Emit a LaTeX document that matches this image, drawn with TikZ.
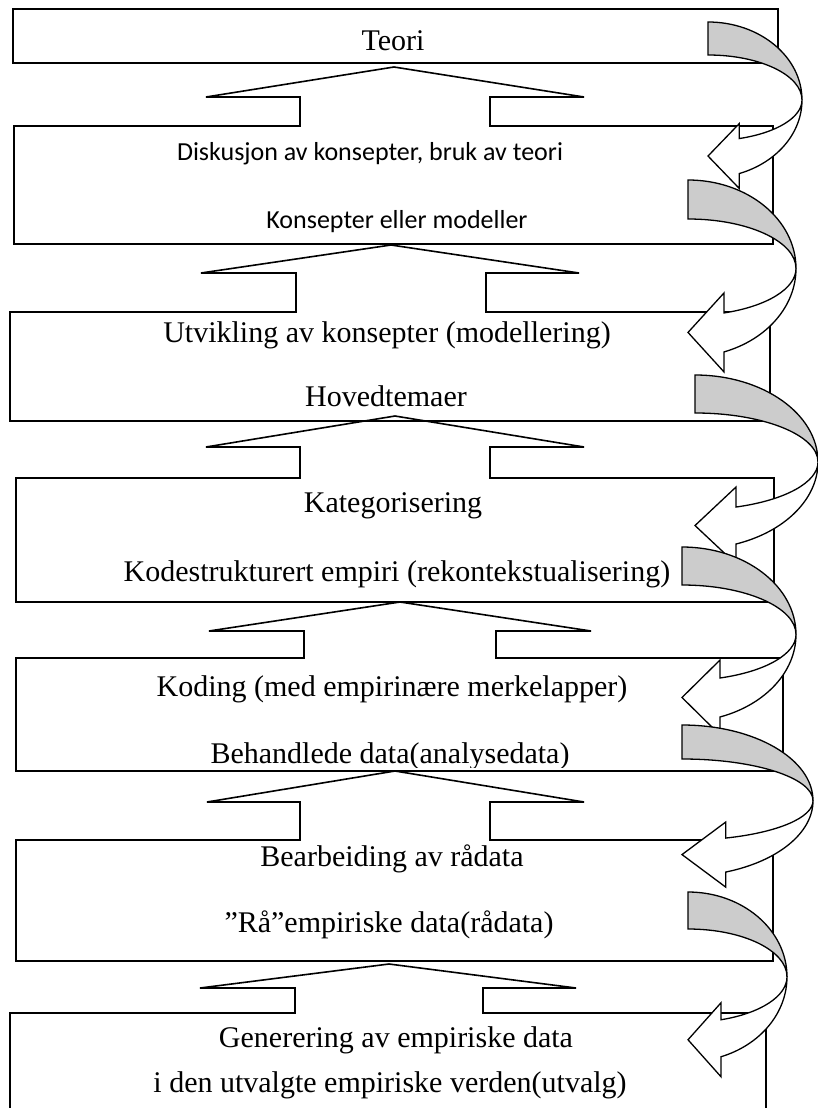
\documentclass[tikz,border=0pt]{standalone}
\usepackage{fontspec}
\setmainfont{Liberation Serif}
\newfontfamily\calib{Carlito}
\newcommand{\curvarrow}[8]{%
 \pgfmathsetmacro{\ho}{#2+0.942809*#4}%
 \pgfmathsetmacro{\hi}{\ho-#6}%
 \pgfmathsetmacro{\bb}{#4-#6/0.942809}%
 \pgfmathsetmacro{\hx}{#1+#3/3}%
 \pgfmathsetmacro{\tipy}{(\hi-#7+\ho+#8)/2}%
 \draw[backface] (#1,{-(#2)+#4}) arc[start angle=90,end angle=0,x radius=#3,y radius=#4]
   arc[start angle=0,end angle=90,x radius=#3,y radius={#4-#5}] -- cycle;
 \draw[frontface] ({#1+#3},{-(#2)}) arc[start angle=0,end angle=-70.5288,x radius=#3,y radius=#4]
   -- (\hx,{-\ho-#8}) -- (#1,-\tipy) -- (\hx,{-\hi+#7}) -- (\hx,-\hi)
   arc[start angle=-70.5288,end angle=0,x radius=#3,y radius=\bb] -- cycle;
}
\begin{document}
\begin{tikzpicture}[x=1pt,y=1pt,
  boxline/.style={draw=black,line width=1.6pt},
  backface/.style={fill=gray!40,draw=black,line width=1.3pt},
  frontface/.style={fill=white,draw=black,line width=1.3pt},
  serif/.style={font=\fontsize{30}{36}\selectfont,inner sep=0pt,anchor=base},
  sans/.style={font=\calib\fontsize{26}{31}\selectfont,inner sep=0pt,anchor=base}]
\fill[white] (0,0) rectangle (818,-1108);
\useasboundingbox (0,0) rectangle (818,-1108);

% boxes with up arrows
\draw[boxline] (13,-9) rectangle (778,-63);
\draw[boxline] (14,-244) -- (14,-126) -- (300,-126) -- (300,-97) -- (206,-97) -- (394,-67)
  -- (584,-97) -- (490,-97) -- (490,-126) -- (773,-126) -- (773,-244) -- cycle;
\draw[boxline] (10,-421) -- (10,-312) -- (296,-312) -- (296,-273) -- (201,-273) -- (391,-245)
  -- (579,-273) -- (486,-273) -- (486,-312) -- (770,-312) -- (770,-421) -- cycle;
\draw[boxline] (16,-602) -- (16,-478) -- (300,-478) -- (300,-447) -- (206,-447) -- (395,-416)
  -- (584,-447) -- (490,-447) -- (490,-478) -- (774,-478) -- (774,-602) -- cycle;
\draw[boxline] (16,-771) -- (16,-658) -- (304,-658) -- (304,-631) -- (209,-631) -- (400,-602)
  -- (591,-631) -- (496,-631) -- (496,-658) -- (783,-658) -- (783,-771) -- cycle;
\draw[boxline] (16,-961) -- (16,-840) -- (300,-840) -- (300,-802) -- (207,-802) -- (395,-771)
  -- (584,-802) -- (490,-802) -- (490,-840) -- (773,-840) -- (773,-961) -- cycle;
\draw[boxline] (10,-1115) -- (10,-1013) -- (295,-1013) -- (295,-988) -- (200,-988) -- (389,-964)
  -- (576,-988) -- (483,-988) -- (483,-1013) -- (766,-1013) -- (766,-1115);

% texts
\node[serif] (t1) at (393,-51) {Teori};
\node[sans] (t2a) at (370,-160) {Diskusjon av konsepter, bruk av teori};
\node[sans] (t2b) at (397,-228) {Konsepter eller modeller};
\node[serif] (t3a) at (387,-342) {Utvikling av konsepter (modellering)};
\node[serif] (t3b) at (386,-406) {Hovedtemaer};
\node[serif] (t4a) at (393,-512) {Kategorisering};
\node[serif] (t4b) at (397,-581) {Kodestrukturert empiri (rekontekstualisering)};
\node[serif] (t5a) at (392,-696) {Koding (med empirinære merkelapper)};
\begin{scope}
\clip (16,-658) rectangle (783,-767);
\node[serif] (t5b) at (390,-763) {Behandlede data(analysedata)};
\end{scope}
\node[serif] (t6a) at (392,-866) {Bearbeiding av rådata};
\node[serif] (t6b) at (389,-932) {”Rå”empiriske data(rådata)};
\node[serif] (t7a) at (396,-1047) {Generering av empiriske data};
\node[serif] (t7b) at (390,-1092) {i den utvalgte empiriske verden(utvalg)};

% curved arrows on the right
\curvarrow{708}{100}{94}{78}{33}{35}{15}{15}
\curvarrow{688}{268.5}{108}{88.5}{39}{39}{20}{20}
\curvarrow{695}{462}{123}{87}{38}{37}{20}{20}
\curvarrow{682}{634.5}{114}{87.5}{38}{39}{18}{18}
\curvarrow{682}{800.7}{131}{75.7}{34}{34}{16}{15}
\curvarrow{688}{976.8}{99}{84.8}{37}{37}{17}{20}
\end{tikzpicture}
\end{document}
